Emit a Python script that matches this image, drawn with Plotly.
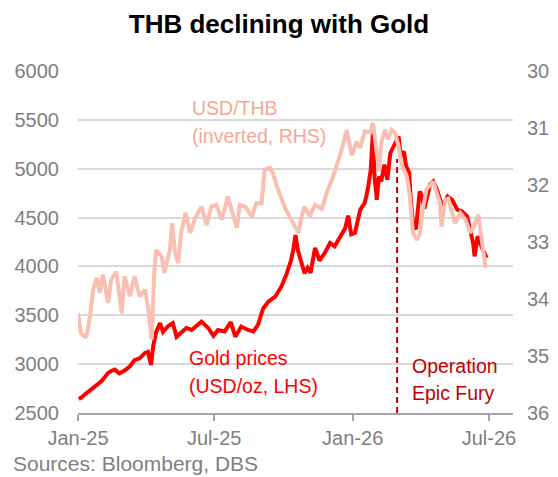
import plotly.graph_objects as go

# Gold prices (USD/oz, left axis)
gold_dates = [
    "2025-01-02", "2025-01-06", "2025-01-10", "2025-01-16", "2025-01-23", "2025-01-28",
    "2025-02-01", "2025-02-06", "2025-02-10", "2025-02-14", "2025-02-19", "2025-02-25",
    "2025-03-04", "2025-03-11", "2025-03-17", "2025-03-24", "2025-03-31", "2025-04-04",
    "2025-04-08", "2025-04-11", "2025-04-15", "2025-04-20", "2025-04-24", "2025-05-01",
    "2025-05-07", "2025-05-12", "2025-05-18", "2025-05-25", "2025-06-01", "2025-06-07",
    "2025-06-14", "2025-06-23", "2025-06-30", "2025-07-06", "2025-07-15", "2025-07-23",
    "2025-07-29", "2025-08-06", "2025-08-15", "2025-08-22", "2025-08-28", "2025-09-04",
    "2025-09-11", "2025-09-20", "2025-09-28", "2025-10-05", "2025-10-11", "2025-10-14",
    "2025-10-17", "2025-10-20", "2025-10-24", "2025-10-29", "2025-11-02", "2025-11-06",
    "2025-11-12", "2025-11-18", "2025-11-25", "2025-12-02", "2025-12-08", "2025-12-15",
    "2025-12-22", "2025-12-26", "2025-12-30", "2026-01-04", "2026-01-11", "2026-01-17",
    "2026-01-21", "2026-01-25", "2026-01-28", "2026-01-30", "2026-02-02", "2026-02-05",
    "2026-02-08", "2026-02-12", "2026-02-16", "2026-02-20", "2026-02-24", "2026-02-28",
    "2026-03-03", "2026-03-06", "2026-03-10", "2026-03-13", "2026-03-17", "2026-03-19",
    "2026-03-22", "2026-03-26", "2026-03-28", "2026-03-31", "2026-04-03", "2026-04-06",
    "2026-04-14", "2026-04-18", "2026-04-23", "2026-04-30", "2026-05-07", "2026-05-13",
    "2026-05-20", "2026-05-26", "2026-06-02", "2026-06-06", "2026-06-10", "2026-06-12",
    "2026-06-16", "2026-06-21", "2026-06-28",
]
gold_prices = [
    2645, 2660, 2688, 2725, 2760, 2790,
    2824, 2870, 2910, 2930, 2944, 2905,
    2935, 2978, 3040, 3060, 3115, 3125,
    2990, 3190, 3330, 3420, 3330, 3390,
    3420, 3280, 3320, 3370, 3350, 3390,
    3435, 3370, 3290, 3350, 3335, 3430,
    3280, 3385, 3350, 3335, 3400, 3570,
    3640, 3690, 3790, 3920, 4060, 4170,
    4320, 4170, 4050, 3930, 3985, 3935,
    4190, 4060, 4140, 4240, 4206, 4300,
    4390, 4520, 4330, 4345, 4580, 4650,
    4785, 4990, 5400, 4921, 4683, 4921,
    4870, 5041, 4888, 5161, 5229, 5297,
    5331, 5126, 5178, 5024, 4960, 4700,
    4445, 4380, 4513, 4768, 4720, 4590,
    4840, 4870, 4785, 4615, 4717, 4683,
    4581, 4564, 4513, 4377, 4240, 4103,
    4308, 4206, 4087,
]

# USD/THB (right axis, inverted)
thb_dates = [
    "2025-01-01", "2025-01-05", "2025-01-12", "2025-01-17", "2025-01-21", "2025-01-26",
    "2025-01-30", "2025-02-03", "2025-02-10", "2025-02-14", "2025-02-21", "2025-02-28",
    "2025-03-04", "2025-03-11", "2025-03-17", "2025-03-24", "2025-03-31", "2025-04-04",
    "2025-04-09", "2025-04-12", "2025-04-15", "2025-04-22", "2025-04-26", "2025-05-03",
    "2025-05-06", "2025-05-10", "2025-05-14", "2025-05-18", "2025-05-24", "2025-05-30",
    "2025-06-05", "2025-06-14", "2025-06-21", "2025-06-27", "2025-07-04", "2025-07-11",
    "2025-07-19", "2025-07-24", "2025-07-31", "2025-08-04", "2025-08-11", "2025-08-20",
    "2025-08-26", "2025-09-02", "2025-09-06", "2025-09-13", "2025-09-17", "2025-09-22",
    "2025-09-28", "2025-10-03", "2025-10-09", "2025-10-16", "2025-10-21", "2025-10-25",
    "2025-10-29", "2025-11-05", "2025-11-12", "2025-11-21", "2025-11-25", "2025-11-29",
    "2025-12-06", "2025-12-13", "2025-12-17", "2025-12-24", "2025-12-31", "2026-01-06",
    "2026-01-11", "2026-01-17", "2026-01-24", "2026-01-28", "2026-02-02", "2026-02-05",
    "2026-02-08", "2026-02-13", "2026-02-17", "2026-02-22", "2026-02-26", "2026-03-03",
    "2026-03-07", "2026-03-14", "2026-03-18", "2026-03-22", "2026-03-27", "2026-03-31",
    "2026-04-04", "2026-04-09", "2026-04-18", "2026-04-23", "2026-04-27", "2026-04-29",
    "2026-05-04", "2026-05-08", "2026-05-13", "2026-05-17", "2026-05-24", "2026-05-31",
    "2026-06-06", "2026-06-10", "2026-06-17", "2026-06-21", "2026-06-26", "2026-06-28",
]
thb_rates = [
    34.25, 34.60, 34.68, 34.31, 33.84, 33.63,
    33.89, 33.57, 34.07, 33.66, 33.52, 34.25,
    33.60, 33.95, 33.60, 33.95, 33.84, 34.13,
    34.71, 33.60, 33.14, 33.25, 33.54, 33.14,
    32.67, 33.19, 33.37, 32.84, 32.49, 32.84,
    32.60, 32.38, 32.70, 32.38, 32.35, 32.61,
    32.20, 32.43, 32.75, 32.35, 32.38, 32.55,
    32.32, 32.32, 31.73, 31.70, 31.79, 32.02,
    32.23, 32.40, 32.55, 32.70, 32.84, 32.55,
    32.38, 32.55, 32.35, 32.42, 32.23, 32.08,
    31.85, 31.56, 31.40, 31.04, 31.48, 31.24,
    31.35, 31.06, 31.08, 30.91, 31.50, 31.76,
    31.26, 31.03, 31.20, 31.03, 31.08, 31.32,
    31.64, 31.85, 32.20, 32.84, 32.96, 32.87,
    32.43, 32.08, 31.94, 32.14, 32.32, 32.73,
    32.26, 32.24, 32.49, 32.67, 32.49, 32.61,
    32.84, 32.75, 32.52, 32.90, 33.40, 33.45,
]

event_date = "2026-03-01"

GRAY = "#808080"
FONT = "Liberation Sans, Arial, sans-serif"

# the page body has an 8px margin, so the figure is drawn 8px in from the top-left
W, H = 550, 469

fig = go.Figure()
fig.add_trace(go.Scatter(x=gold_dates, y=gold_prices, mode="lines",
                         line=dict(color="#FF0000", width=4), yaxis="y"))
fig.add_trace(go.Scatter(x=thb_dates, y=thb_rates, mode="lines",
                         line=dict(color="#F9BFB3", width=4), yaxis="y2"))

# Operation Epic Fury marker
fig.add_shape(type="line", xref="x", yref="y", x0=event_date, x1=event_date,
              y0=2500, y1=5100, line=dict(color="#C00000", width=2, dash="6px,4px"))


def label(text, px, py, color):
    # px/py: left edge / vertical centre of the text line, in page pixels
    fig.add_annotation(text=text, xref="paper", yref="paper",
                       x=(px - 78) / 435, y=(413 - py) / 342,
                       xanchor="left", yanchor="middle", showarrow=False,
                       font=dict(family=FONT, size=19.5, color=color))


label("USD/THB", 190, 108, "#F7A796")
label("(inverted, RHS)", 190, 136, "#F7A796")
label("Gold prices", 187, 358, "#FF0000")
label("(USD/oz, LHS)", 187, 386, "#FF0000")
label("Operation", 410, 366, "#C00000")
label("Epic Fury", 410, 393, "#C00000")

fig.add_annotation(text="Sources: Bloomberg, DBS", xref="paper", yref="paper",
                   x=(11 - 78) / 435, y=(413 - 463) / 342, xanchor="left", yanchor="middle",
                   showarrow=False, font=dict(family=FONT, size=21, color=GRAY))

fig.update_layout(
    width=W, height=H,
    margin=dict(l=70, r=45, t=63, b=64, autoexpand=False),
    paper_bgcolor="white", plot_bgcolor="white",
    showlegend=False,
    font=dict(family=FONT, size=20, color=GRAY),
    title=dict(text="<b>THB declining with Gold</b>", xref="container", x=(279 - 8) / W,
               y=1 - 16 / H, yanchor="middle", xanchor="center",
               font=dict(family=FONT, size=26, color="black")),
    xaxis=dict(type="date", range=["2025-01-01", "2026-08-02"], automargin=False,
               tick0="2025-01-01", dtick="M6", tickformat="%b-%y",
               ticks="outside", ticklen=6, tickwidth=2, tickcolor="#A6A6A6",
               showline=True, linecolor="#A6A6A6", linewidth=2, showgrid=False,
               tickfont=dict(size=20, color=GRAY)),
    yaxis=dict(range=[2500, 6000], dtick=500, showgrid=True, gridcolor="#D9D9D9",
               gridwidth=1.5, zeroline=False, showline=False, ticks="", automargin=False,
               ticklabelstandoff=18, tickfont=dict(size=20, color=GRAY)),
    yaxis2=dict(range=[36, 30], dtick=1, overlaying="y", side="right", automargin=False,
                showgrid=False, zeroline=False, showline=False, ticks="",
                ticklabelstandoff=13, tickfont=dict(size=20, color=GRAY)),
)

fig.write_html("out.html")
